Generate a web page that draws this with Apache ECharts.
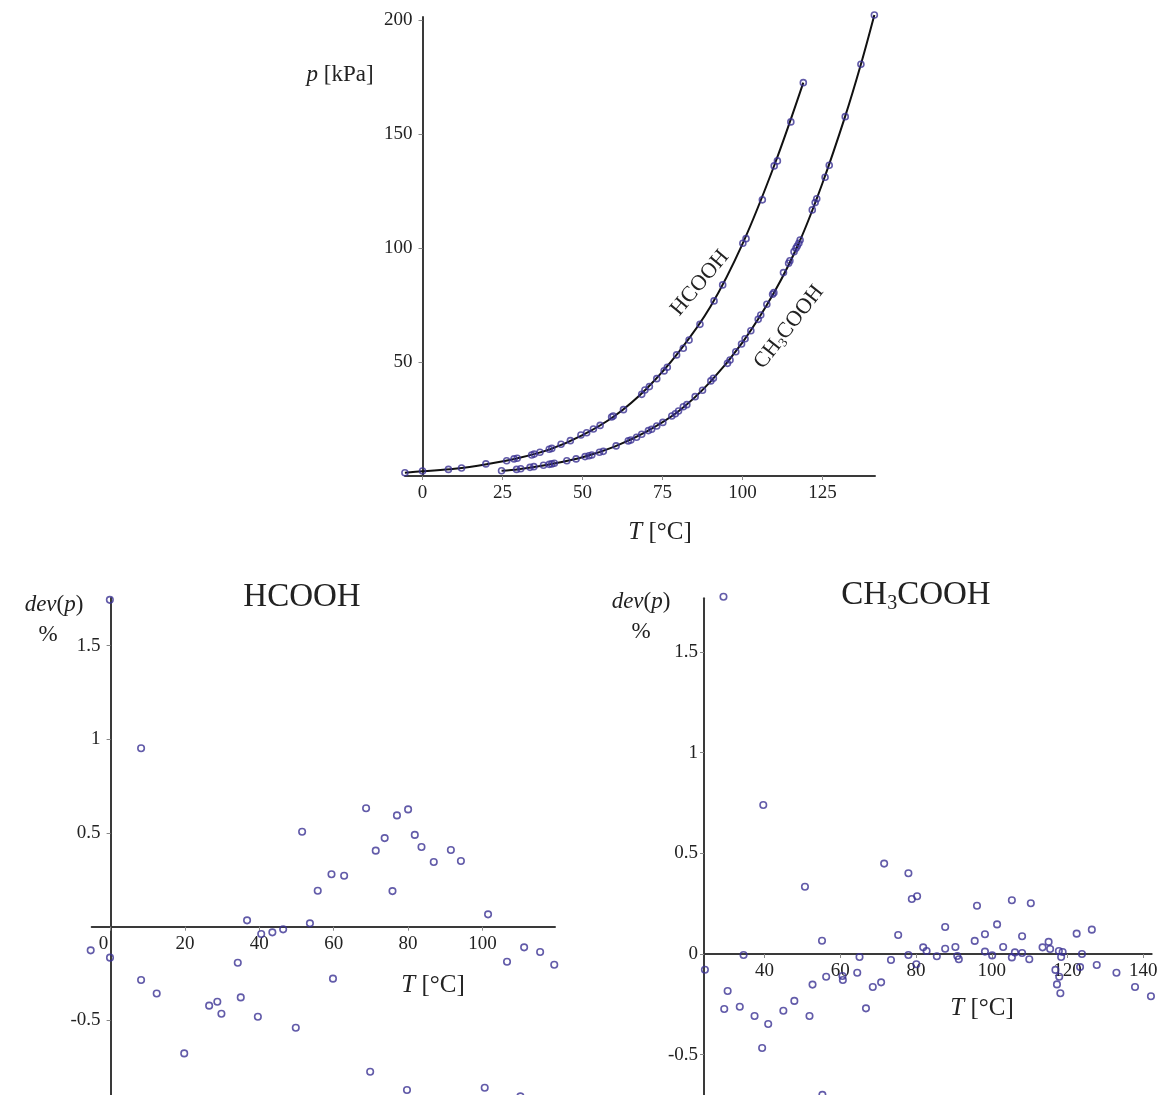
<!DOCTYPE html>
<html>
<head>
<meta charset="utf-8">
<script src="https://cdn.jsdelivr.net/npm/echarts@6/dist/echarts.min.js"></script>
<style>
  html, body { margin: 0; padding: 0; overflow: hidden; background: #fff; }
  #chart { width: 1168px; height: 1095px; }
</style>
</head>
<body>
<div id="chart"></div>
<script>
// vapour pressure measurements, T [°C] / p [kPa]
const hcoohT = [-5.5, 0, 8.1, 12.2, 19.8, 26.3, 28.6, 29.6, 34.1, 34.9, 36.7, 39.6, 40.4, 43.3, 46.2, 49.5, 51.3, 53.4, 55.5, 59.1, 59.6, 62.8, 68.5, 69.5, 70.9, 73.2, 75.5, 76.5, 79.4, 81.5, 83.3, 86.7, 91.1, 93.8, 100.1, 101.1, 106.2, 109.9, 110.9, 115.1, 119.0];
const hcoohP = [1.45, 2.2, 2.9, 3.5, 5.3, 6.7, 7.5, 7.8, 9.2, 9.6, 10.4, 11.7, 12.1, 13.9, 15.5, 18.0, 19.0, 20.6, 22.2, 25.9, 26.3, 29.1, 35.8, 37.7, 39.2, 42.7, 46.1, 47.7, 53.1, 56.0, 59.6, 66.5, 76.8, 83.8, 102.1, 104.1, 121.1, 136.0, 138.2, 155.3, 172.5];

const ch3T = [24.7, 29.4, 30.7, 33.6, 34.8, 37.8, 39.6, 40.4, 41.2, 45.1, 48.0, 50.8, 52.0, 52.9, 55.3, 56.5, 60.5, 64.3, 65.1, 66.9, 68.5, 70.6, 71.6, 73.2, 75.1, 77.9, 79.0, 80.0, 81.5, 82.6, 85.2, 87.5, 90.1, 90.9, 95.3, 96.1, 97.9, 99.7, 100.8, 102.6, 104.9, 105.7, 107.6, 109.4, 109.8, 112.8, 114.4, 114.8, 116.1, 116.7, 117.1, 117.6, 118.0, 121.8, 122.7, 123.2, 125.8, 127.1, 132.1, 137.0, 141.2];
const ch3P = [2.3, 2.9, 3.2, 3.8, 4.1, 4.7, 5.1, 5.3, 5.6, 6.7, 7.5, 8.5, 8.9, 9.2, 10.4, 10.8, 13.2, 15.4, 15.8, 17.0, 18.3, 19.9, 20.5, 21.9, 23.5, 26.3, 27.3, 28.5, 30.4, 31.3, 34.8, 37.6, 41.7, 42.9, 49.4, 50.9, 54.5, 57.9, 60.2, 63.7, 68.7, 70.6, 75.3, 79.7, 80.4, 89.2, 93.3, 94.4, 98.4, 99.9, 100.9, 102.1, 103.5, 116.7, 119.9, 121.6, 131.0, 136.3, 157.6, 180.6, 202.2];

// fitted curves
const hcoohCurveT = [-5.5, 0, 10, 20, 30, 40, 50, 60, 70, 80, 90, 100, 110, 119];
const hcoohCurveP = [1.45, 2.1, 3.2, 5.2, 7.9, 11.8, 17.9, 26.3, 38.3, 54.2, 74.3, 101.8, 136.5, 172.5];
const ch3CurveT = [24.7, 30, 40, 50, 60, 70, 80, 90, 100, 110, 118, 125, 132, 137, 141.2];
const ch3CurveP = [2.3, 3.0, 5.2, 8.2, 12.9, 19.5, 28.4, 41.4, 58.6, 80.8, 103.4, 128.5, 157.4, 180.6, 202.2];

// relative deviation dev(p) [%]
const devHT = [-5.35, -0.2, -0.16, 8.2, 8.2, 12.4, 19.8, 26.5, 28.7, 29.8, 34.2, 35.0, 36.7, 39.6, 40.5, 43.5, 46.4, 49.8, 51.5, 53.6, 55.7, 59.4, 59.8, 62.8, 68.7, 69.8, 71.3, 73.7, 75.8, 77.0, 79.7, 80.0, 81.8, 83.6, 86.9, 91.5, 94.2, 100.6, 101.5, 106.6, 110.2, 111.2, 115.5, 119.3];
const devHV = [-0.126, 1.744, -0.165, 0.952, -0.284, -0.356, -0.676, -0.421, -0.400, -0.464, -0.192, -0.377, 0.034, -0.48, -0.039, -0.030, -0.014, -0.539, 0.507, 0.018, 0.192, 0.280, -0.277, 0.272, 0.632, -0.774, 0.406, 0.473, 0.190, 0.594, -0.871, 0.626, 0.49, 0.425, 0.345, 0.409, 0.351, -0.859, 0.066, -0.187, -0.905, -0.110, -0.135, -0.203];

const devCT = [24.3, 29.2, 29.4, 30.3, 33.5, 34.5, 37.4, 39.4, 39.7, 41.0, 45.0, 47.9, 50.7, 51.9, 52.7, 55.2, 55.3, 56.3, 60.6, 60.7, 64.5, 65.1, 66.8, 68.6, 70.8, 71.6, 73.4, 75.3, 78.0, 78.0, 78.9, 80.3, 80.1, 81.9, 82.8, 85.5, 87.7, 87.7, 90.4, 90.9, 91.3, 95.5, 96.1, 98.2, 98.2, 100.1, 101.4, 103.0, 105.3, 105.3, 106.1, 108.0, 108.0, 109.9, 110.3, 113.4, 115.0, 115.4, 116.8, 117.2, 117.7, 117.8, 118.1, 118.3, 118.7, 122.4, 123.3, 123.8, 126.4, 127.7, 132.9, 137.8, 142.0];
const devCV = [-0.078, 1.775, -0.273, -0.184, -0.262, -0.005, -0.308, -0.467, 0.740, -0.348, -0.282, -0.233, 0.334, -0.308, -0.152, 0.066, -0.70, -0.113, -0.109, -0.129, -0.093, -0.015, -0.27, -0.164, -0.141, 0.449, -0.03, 0.094, 0.401, -0.005, 0.273, 0.287, -0.051, 0.033, 0.015, -0.011, 0.134, 0.026, 0.035, -0.01, -0.026, 0.065, 0.24, 0.098, 0.012, -0.007, 0.147, 0.035, 0.267, -0.017, 0.008, 0.088, 0.005, -0.026, 0.252, 0.033, 0.06, 0.025, -0.079, -0.151, 0.015, -0.113, -0.195, -0.015, 0.01, 0.101, -0.065, 0.0, 0.121, -0.055, -0.093, -0.164, -0.21];

// tick labels
const topXTicks = [0, 25, 50, 75, 100, 125];
const topYTicks = [50, 100, 150, 200];
const leftXTicks = [0, 20, 40, 60, 80, 100];
const leftYTicks = [-0.5, 0.5, 1, 1.5];
const rightXTicks = [40, 60, 80, 100, 120, 140];
const rightYTicks = [-0.5, 0, 0.5, 1, 1.5];

const zip = (a, b) => a.map((v, i) => [v, b[i]]);

const FONT = "'Liberation Serif', 'DejaVu Serif', serif";
const AXIS = '#3a3a3a';
const DOT = '#3b3294';

// axes are shifted onto the zero of the other axis with offset (labels follow)
function axis(gridIndex, min, max, ticks, offset, labelExtra) {
    return {
        type: 'value',
        gridIndex: gridIndex,
        min: min,
        max: max,
        offset: offset,
        splitLine: {show: false},
        axisLine: {show: true, onZero: false, lineStyle: {color: AXIS, width: 2}},
        axisTick: {show: true, length: 4, customValues: ticks, lineStyle: {color: '#888'}},
        axisLabel: Object.assign({customValues: ticks, fontSize: 19, color: '#222', fontFamily: FONT, margin: 8}, labelExtra || {})
    };
}

const dotStyle = {color: 'rgba(255,255,255,0)', borderColor: DOT, borderWidth: 1.6};

function dots(name, data, xi, size) {
    return {
        name: name, type: 'scatter', xAxisIndex: xi, yAxisIndex: xi,
        data: data, symbol: 'circle', symbolSize: size, itemStyle: dotStyle,
        clip: false, z: 3
    };
}

function curve(name, data) {
    return {
        name: name, type: 'line', xAxisIndex: 0, yAxisIndex: 0,
        data: data, showSymbol: false, smooth: 0.35,
        lineStyle: {color: '#111', width: 2}, clip: false, z: 2
    };
}

function label(x, y, text, size, rot) {
    return {
        type: 'text', x: x, y: y, rotation: rot || 0,
        style: {
            text: text, fontFamily: FONT, fontSize: size, fill: '#222',
            align: 'center', verticalAlign: 'middle',
            rich: {
                i: {fontStyle: 'italic', fontFamily: FONT, fontSize: size, fill: '#222'},
                s: {fontFamily: FONT, fontSize: Math.round(size * 0.6), fill: '#222', padding: [size * 0.5, 0, 0, 0]}
            }
        }
    };
}

const deg = Math.PI / 180;

let myChart = echarts.init(document.getElementById('chart'));
myChart.setOption({
    animation: false,
    backgroundColor: '#fff',
    textStyle: {fontFamily: FONT},
    grid: [
        {left: 405, top: 17, width: 470, height: 459, outerBoundsMode: 'none'},
        {left: 91.7, top: 598, width: 463.3, height: 497.4, outerBoundsMode: 'none'},
        {left: 704, top: 598.3, width: 447.7, height: 496.6, outerBoundsMode: 'none'}
    ],
    xAxis: [
        axis(0, -5.47, 141.4, topXTicks, 0),
        axis(1, -5.08, 119.5, leftXTicks, -168.7, {
            formatter: v => v === 0 ? '{z|0}' : String(v),
            rich: {z: {fontSize: 19, fontFamily: FONT, color: '#222', padding: [0, 14, 0, 0]}}
        }),
        axis(2, 24.06, 142.2, rightXTicks, -140.9)
    ],
    yAxis: [
        axis(0, 0, 201.3, topYTicks, -17.5, {margin: 10}),
        axis(1, -0.9, 1.754, leftYTicks, -18.9, {margin: 10}),
        axis(2, -0.7, 1.767, rightYTicks, 0, {margin: 6})
    ],
    graphic: [
        label(340, 75, '{i|p} [kPa]', 23),
        label(660, 532, '{i|T} [°C]', 25),
        label(700, 283, 'HCOOH', 22, 50 * deg),
        label(789, 327, 'CH{s|3}COOH', 22, 52 * deg),
        label(302, 597, 'HCOOH', 33),
        label(54, 605, '{i|dev}({i|p})', 23),
        label(48, 635, '%', 23),
        label(433, 985, '{i|T} [°C]', 25),
        label(916, 595, 'CH{s|3}COOH', 33),
        label(641, 602, '{i|dev}({i|p})', 23),
        label(641, 632, '%', 23),
        label(982, 1008, '{i|T} [°C]', 25)
    ],
    series: [
        curve('HCOOH fit', zip(hcoohCurveT, hcoohCurveP)),
        curve('CH3COOH fit', zip(ch3CurveT, ch3CurveP)),
        dots('HCOOH', zip(hcoohT, hcoohP), 0, 6),
        dots('CH3COOH', zip(ch3T, ch3P), 0, 6),
        dots('dev HCOOH', zip(devHT, devHV), 1, 6.5),
        dots('dev CH3COOH', zip(devCT, devCV), 2, 6.5)
    ]
});
</script>
</body>
</html>
